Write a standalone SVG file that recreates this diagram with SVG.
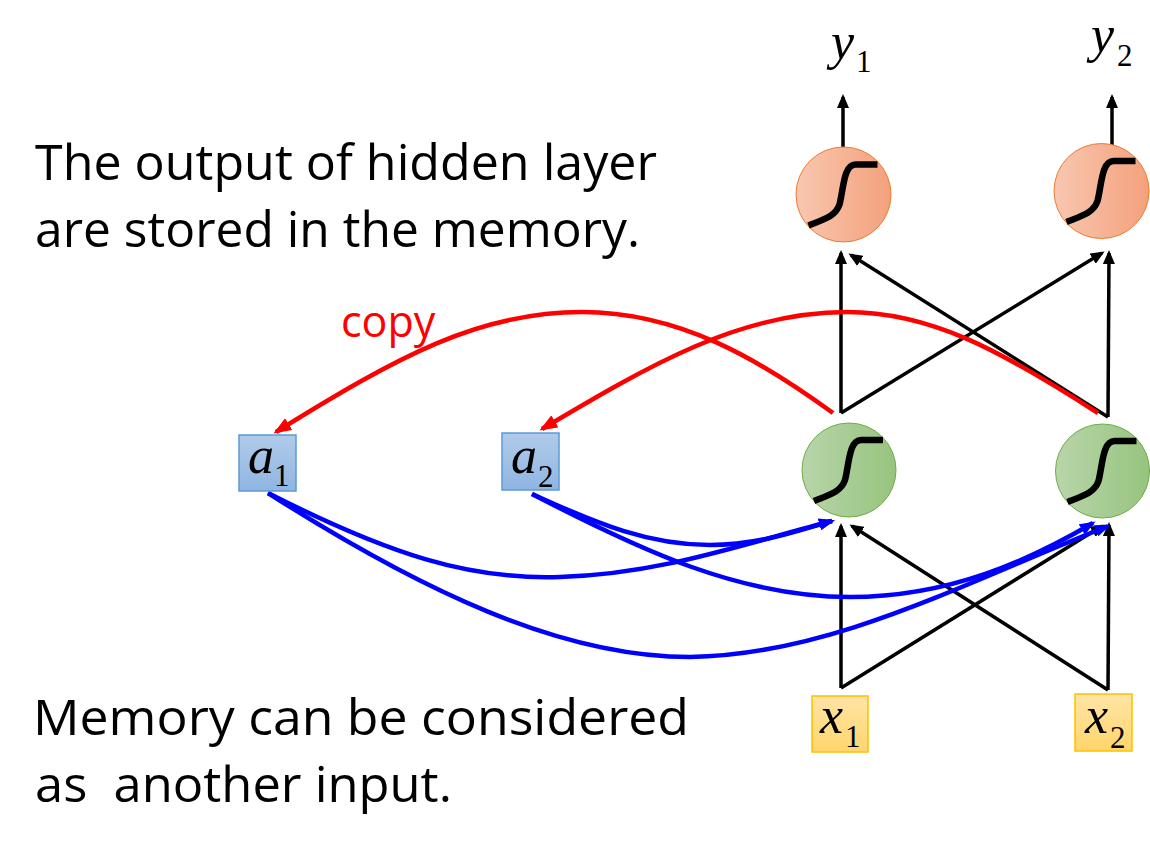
<svg xmlns="http://www.w3.org/2000/svg" width="1150" height="857" viewBox="0 0 1150 857">
<style>
.txt{font-family:"Open Sans","Liberation Sans",sans-serif;font-size:50px;fill:#000}
.mi{font-family:"Liberation Serif","Times New Roman",serif;font-style:italic;font-size:52px;fill:#000}
.sub{font-family:"Liberation Serif","Times New Roman",serif;font-size:31px;fill:#000}
.blk{fill:none;stroke:#000;stroke-width:3.5;marker-end:url(#ab)}
.red{fill:none;stroke:#ff0000;stroke-width:4.5;marker-end:url(#ar)}
.blu{fill:none;stroke:#0000ff;stroke-width:4.5;marker-end:url(#abl)}
.sig{fill:none;stroke:#000;stroke-width:6.5}
.oc{fill:url(#go);stroke:#ed7d31;stroke-width:1}
.gc{fill:url(#gg);stroke:#70ad47;stroke-width:1}
.bb{fill:url(#gb);stroke:#5b9bd5;stroke-width:1.5}
.yb{fill:url(#gy);stroke:#ffc000;stroke-width:1.5}
</style>
<defs>
<linearGradient id="go" x1="0" y1="0" x2="1" y2="0"><stop offset="0" stop-color="#f8c7b0"/><stop offset="1" stop-color="#f4a17c"/></linearGradient>
<linearGradient id="gg" x1="0" y1="0" x2="1" y2="0"><stop offset="0" stop-color="#b8d5aa"/><stop offset="1" stop-color="#97c47f"/></linearGradient>
<linearGradient id="gb" x1="0" y1="0" x2="0" y2="1"><stop offset="0" stop-color="#b0cbea"/><stop offset="1" stop-color="#90b5e2"/></linearGradient>
<linearGradient id="gy" x1="0" y1="0" x2="0" y2="1"><stop offset="0" stop-color="#ffe4a6"/><stop offset="1" stop-color="#ffd66c"/></linearGradient>
<marker id="ab" viewBox="0 0 14 12" refX="11" refY="6" markerWidth="14" markerHeight="12" markerUnits="userSpaceOnUse" orient="auto"><path d="M0,0 L14,6 L0,12 z" fill="#000"/></marker>
<marker id="ar" viewBox="0 0 18 14" refX="15" refY="7" markerWidth="18" markerHeight="14" markerUnits="userSpaceOnUse" orient="auto"><path d="M0,0 L18,7 L0,14 z" fill="#ff0000"/></marker>
<marker id="abl" viewBox="0 0 16 12" refX="13" refY="6" markerWidth="16" markerHeight="12" markerUnits="userSpaceOnUse" orient="auto"><path d="M0,0 L16,6 L0,12 z" fill="#0000ff"/></marker>
<path id="sg" d="M -35 31 C -20 25, -8 22, -4 10 C 0 -5, 0 -30, 12 -30 L 34 -30"/>
</defs>

<g id="text-top">
<text class="txt" x="35" y="180" textLength="622" lengthAdjust="spacingAndGlyphs">The output of hidden layer</text>
<text class="txt" x="35" y="247" textLength="605" lengthAdjust="spacingAndGlyphs">are stored in the memory.</text>
</g>
<g id="text-bottom">
<text class="txt" x="33" y="735" textLength="656" lengthAdjust="spacingAndGlyphs">Memory can be considered</text>
<text class="txt" x="35" y="802" textLength="417" lengthAdjust="spacingAndGlyphs" xml:space="preserve">as  another input.</text>
</g>

<g id="connectors">
<line class="blk" x1="843" y1="147" x2="843" y2="97"/>
<line class="blk" x1="1112" y1="146" x2="1112" y2="97"/>
<line class="blk" x1="841" y1="413" x2="841" y2="253"/>
<line class="blk" x1="841" y1="413" x2="1102" y2="253"/>
<line class="blk" x1="1108" y1="417" x2="1109" y2="253"/>
<line class="blk" x1="1108" y1="417" x2="851" y2="255"/>
<line class="blk" x1="841" y1="688" x2="841" y2="526"/>
<line class="blk" x1="841" y1="688" x2="1102" y2="526"/>
<line class="blk" x1="1108" y1="690" x2="1109" y2="525"/>
<line class="blk" x1="1108" y1="690" x2="852" y2="526"/>
<path class="blu" d="M 268 493 C 390 555, 470 580, 560 577 C 660 574, 740 545, 832 521"/>
<path class="blu" d="M 268 493 C 420 590, 560 657, 690 657 C 830 655, 960 585, 1108 526"/>
<path class="blu" d="M 532 494 C 600 525, 650 545, 710 545 C 760 545, 800 530, 832 521"/>
<path class="blu" d="M 532 494 C 640 550, 740 597, 850 597 C 950 597, 1030 560, 1093 523"/>
<path class="red" d="M 833 413 C 760 360, 680 312, 582 312 C 480 312, 400 355, 276 432"/>
<path class="red" d="M 1098 413 C 1000 350, 930 312, 847 312 C 740 312, 650 365, 542 429"/>
</g>

<g id="copy-label">
<text x="341" y="337" font-family="Open Sans, Liberation Sans, sans-serif" font-size="43" fill="#ff0000">copy</text>
</g>

<g id="y1"><text class="mi" x="831" y="59">y</text><text class="sub" x="856" y="72">1</text></g>
<g id="y2"><text class="mi" x="1091" y="52">y</text><text class="sub" x="1117" y="66">2</text></g>

<g id="out1"><circle class="oc" cx="843.5" cy="194.5" r="47.5"/><use href="#sg" class="sig" transform="translate(843.5,194.5)"/></g>
<g id="out2"><circle class="oc" cx="1101.5" cy="191" r="47.5"/><use href="#sg" class="sig" transform="translate(1101.5,191)"/></g>

<g id="h1"><circle class="gc" cx="849" cy="470" r="47"/><use href="#sg" class="sig" transform="translate(849,470)"/></g>
<g id="h2"><circle class="gc" cx="1102.5" cy="471" r="47"/><use href="#sg" class="sig" transform="translate(1102.5,471)"/></g>

<g id="a1"><rect class="bb" x="239" y="435" width="57" height="56"/><text class="mi" x="248" y="473">a</text><text class="sub" x="274" y="486">1</text></g>
<g id="a2"><rect class="bb" x="502" y="433" width="57" height="57"/><text class="mi" x="511" y="473">a</text><text class="sub" x="538" y="487">2</text></g>

<g id="x1"><rect class="yb" x="812" y="696" width="56" height="56"/><text class="mi" x="820" y="733">x</text><text class="sub" x="845" y="747">1</text></g>
<g id="x2"><rect class="yb" x="1075" y="694" width="57" height="57"/><text class="mi" x="1085" y="733">x</text><text class="sub" x="1110" y="748">2</text></g>
</svg>
